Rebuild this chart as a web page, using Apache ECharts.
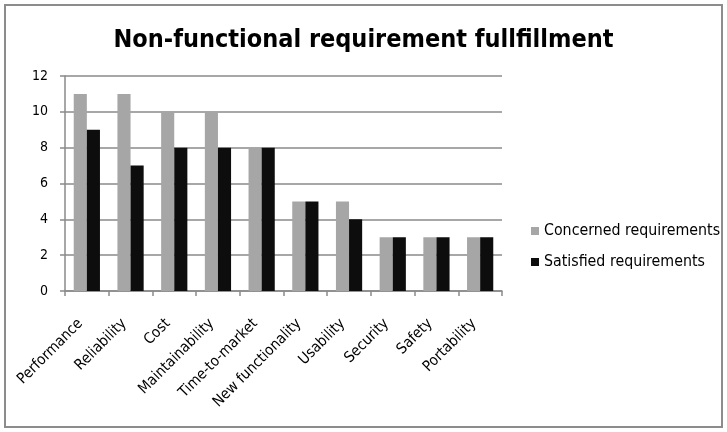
<!DOCTYPE html>
<html>
<head>
<meta charset="utf-8">
<script src="https://cdn.jsdelivr.net/npm/echarts@6/dist/echarts.min.js"></script>
<style>
  html, body { margin: 0; padding: 0; background: #fff; }
  #chart { width: 727px; height: 432px; }
</style>
</head>
<body>
<div id="chart"></div>
<script>
// Requirement categories along the x axis
const categories = ['Performance', 'Reliability', 'Cost', 'Maintainability', 'Time-to-market',
  'New functionality', 'Usability', 'Security', 'Safety', 'Portability'];
// Number of requirements per category
const concerned = [11, 11, 10, 10, 8, 5, 5, 3, 3, 3];
const satisfied = [9, 7, 8, 8, 8, 5, 4, 3, 3, 3];
const seriesNames = ['Concerned requirements', 'Satisfied requirements'];

const FONT = "'Liberation Sans Narrow', 'DejaVu Sans Condensed', 'Noto Sans', sans-serif";
const GRID_COLOR = '#8a8a8a';

const chart = echarts.init(document.getElementById('chart'), null, { renderer: 'canvas' });
chart.setOption({
  animation: false,
  backgroundColor: '#ffffff',
  graphic: [{
    type: 'rect',
    shape: { x: 5, y: 5, width: 717, height: 422 },
    style: { fill: 'none', stroke: '#8c8c8c', lineWidth: 2 },
    silent: true
  }],
  title: {
    text: 'Non-functional requirement fullfillment',
    left: 'center',
    top: 23,
    textStyle: { fontFamily: FONT, fontWeight: 'bold', fontSize: 25, color: '#000' }
  },
  legend: {
    orient: 'vertical',
    left: 526,
    top: 218,
    itemGap: 15,
    itemWidth: 8,
    itemHeight: 8,
    icon: 'rect',
    textStyle: { fontFamily: FONT, fontSize: 15.8, color: '#000' },
    data: seriesNames
  },
  grid: { left: 65, right: 225, top: 76, bottom: 141, containLabel: false },
  xAxis: {
    type: 'category',
    data: categories,
    axisLine: { lineStyle: { color: GRID_COLOR, width: 1.5 } },
    axisTick: { show: true, alignWithLabel: false, length: 5, lineStyle: { color: GRID_COLOR, width: 1.5 } },
    axisLabel: {
      rotate: 45,
      interval: 0,
      margin: 24,
      padding: [0, 9, 0, 0],
      fontFamily: FONT,
      fontSize: 15,
      color: '#000'
    }
  },
  yAxis: {
    type: 'value',
    min: 0,
    max: 12,
    interval: 2,
    axisLine: { show: true, lineStyle: { color: GRID_COLOR, width: 1.5 } },
    axisTick: { show: true, length: 5, lineStyle: { color: GRID_COLOR, width: 1.5 } },
    splitLine: { lineStyle: { color: GRID_COLOR, width: 1.5 } },
    axisLabel: { margin: 17, fontFamily: FONT, fontSize: 14, color: '#000' }
  },
  series: [
    {
      name: seriesNames[0],
      type: 'bar',
      data: concerned,
      itemStyle: { color: '#a6a6a6' },
      barGap: '0%',
      barCategoryGap: '40%'
    },
    {
      name: seriesNames[1],
      type: 'bar',
      data: satisfied,
      itemStyle: { color: '#0d0d0d' },
      barGap: '0%',
      barCategoryGap: '40%'
    }
  ]
});
</script>
</body>
</html>
